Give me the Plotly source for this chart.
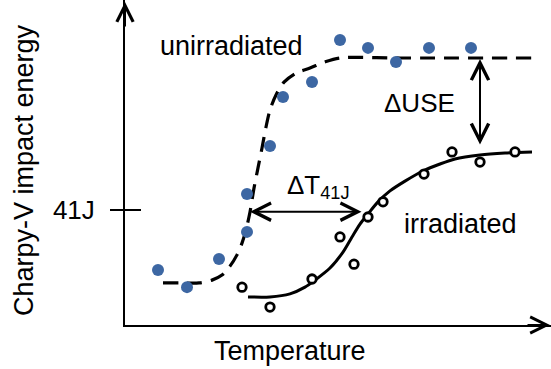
import plotly.graph_objects as go

# ---- data (temperature in arbitrary °C units, energy in J) ----
unirr_T = [-142, -113, -81, -53, -53, -30, -17, 12, 40, 68, 96, 129, 171]
unirr_E = [19.6, 13.5, 23.5, 33.2, 46.7, 63.8, 81.3, 86.6, 101.6, 98.8, 93.8, 98.8, 98.8]

irr_T = [-58, -30, 12, 40, 54, 68, 83, 124, 152, 180, 215]
irr_E = [13.5, 6.4, 16.4, 31.4, 21.7, 38.5, 43.9, 53.8, 61.7, 58.1, 61.7]

unirr_fit_T = [-137, -120, -101, -88, -78, -70, -63, -58, -54, -50, -46, -42, -38, -34,
               -30, -24, -16, -4, 10, 25, 40, 100, 232]
unirr_fit_E = [15.0, 15.0, 15.0, 16.0, 17.8, 21.0, 25.0, 29.2, 33.9, 40.3, 48.8, 56.0, 63.1, 70.6,
               76.7, 82.0, 86.6, 89.8, 91.6, 93.8, 95.2, 95.2, 95.2]

irr_fit_T = [-52, -30, -10, 5, 15, 30, 43, 52, 60, 68, 78, 90, 105, 123, 140, 155, 180, 205, 232]
irr_fit_E = [10.0, 10.0, 11.1, 13.5, 16.0, 20.3, 26.0, 31.4, 36.0, 39.6, 43.9, 47.8, 51.3, 54.9,
             57.4, 59.2, 60.6, 61.3, 61.7]

E41 = 41
use_T = 180
use_top, use_bot = 94.8, 63.8
dT_E = 40.4
dT_left, dT_right = -50, 63

x_range = [-175, 251]
y_range = [0, 115.87]

FONT = "Liberation Sans, Arial, sans-serif"
BLUE = "#3D67A3"

fig = go.Figure()

fig.add_trace(go.Scatter(x=unirr_fit_T, y=unirr_fit_E, mode="lines",
                         line=dict(color="black", width=3.2, dash="15px,9px", shape="spline", smoothing=0.8),
                         showlegend=False, hoverinfo="skip"))
fig.add_trace(go.Scatter(x=irr_fit_T, y=irr_fit_E, mode="lines",
                         line=dict(color="black", width=3, shape="spline", smoothing=0.8),
                         showlegend=False, hoverinfo="skip"))
fig.add_trace(go.Scatter(x=unirr_T, y=unirr_E, mode="markers",
                         marker=dict(color=BLUE, size=12, line=dict(width=0)),
                         showlegend=False, name="unirradiated"))
fig.add_trace(go.Scatter(x=irr_T, y=irr_E, mode="markers",
                         marker=dict(color="white", size=8.5, symbol="circle",
                                     line=dict(color="black", width=2.8)),
                         showlegend=False, name="irradiated"))

fig.update_layout(
    width=551, height=369, autosize=False,
    margin=dict(l=125, r=0, t=0, b=44, pad=0),
    plot_bgcolor="white", paper_bgcolor="white",
    font=dict(family=FONT, size=27, color="black"),
    xaxis=dict(range=x_range, showgrid=False, zeroline=False, showticklabels=False,
               ticks="", showline=True, linecolor="black", linewidth=2),
    yaxis=dict(range=y_range, showgrid=False, zeroline=False, tickvals=[E41], ticktext=["41J"],
               ticks="outside", ticklen=13, tickwidth=2, tickcolor="black",
               ticklabelstandoff=10, tickfont=dict(size=26, family=FONT),
               showline=True, linecolor="black", linewidth=2),
)

# inner half of the 41J tick
fig.add_shape(type="line", xref="paper", yref="y", x0=0, x1=16 / 426, y0=E41, y1=E41,
              line=dict(color="black", width=2))

arrow_common = dict(showarrow=True, text="", axref="x", ayref="y", xref="x", yref="y",
                    arrowhead=5, arrowcolor="black", arrowwidth=2)
# axis arrows
fig.add_annotation(x=x_range[1] - 1, y=0, ax=x_range[1] - 25, ay=0, arrowside="end",
                   arrowsize=1.6, startarrowsize=1.6, **arrow_common)
fig.add_annotation(x=x_range[0], y=y_range[1] - 0.7, ax=x_range[0], ay=y_range[1] - 10,
                   arrowside="end", arrowsize=1.6, **arrow_common)
# ΔUSE arrow
fig.add_annotation(x=use_T, y=use_top, ax=use_T, ay=use_bot, arrowside="end+start",
                   arrowsize=1.7, startarrowsize=1.7, startarrowhead=5, **arrow_common)
# ΔT41J arrow
fig.add_annotation(x=dT_left, y=dT_E, ax=dT_right, ay=dT_E, arrowside="end+start",
                   arrowsize=1.7, startarrowsize=1.7, startarrowhead=5, **arrow_common)

def label(text, x, y, size=27, **kw):
    fig.add_annotation(text=text, x=x, y=y, showarrow=False, xanchor="center", yanchor="middle",
                       font=dict(family=FONT, size=size, color="black"), **kw)

label("unirradiated", -69, 99.5)
label("ΔUSE", 119, 79.1, size=26)
label("irradiated", 160, 36.0)
label("ΔT<sub>41J</sub>", 18, 49.5, size=26)
label("Temperature", (290 - 125) / 426, -0.08, xref="paper", yref="paper")
label("Charpy-V impact energy", (24 - 125) / 426, (325 - 170) / 325, size=27,
      xref="paper", yref="paper", textangle=-90)

fig.write_html("out.html")
